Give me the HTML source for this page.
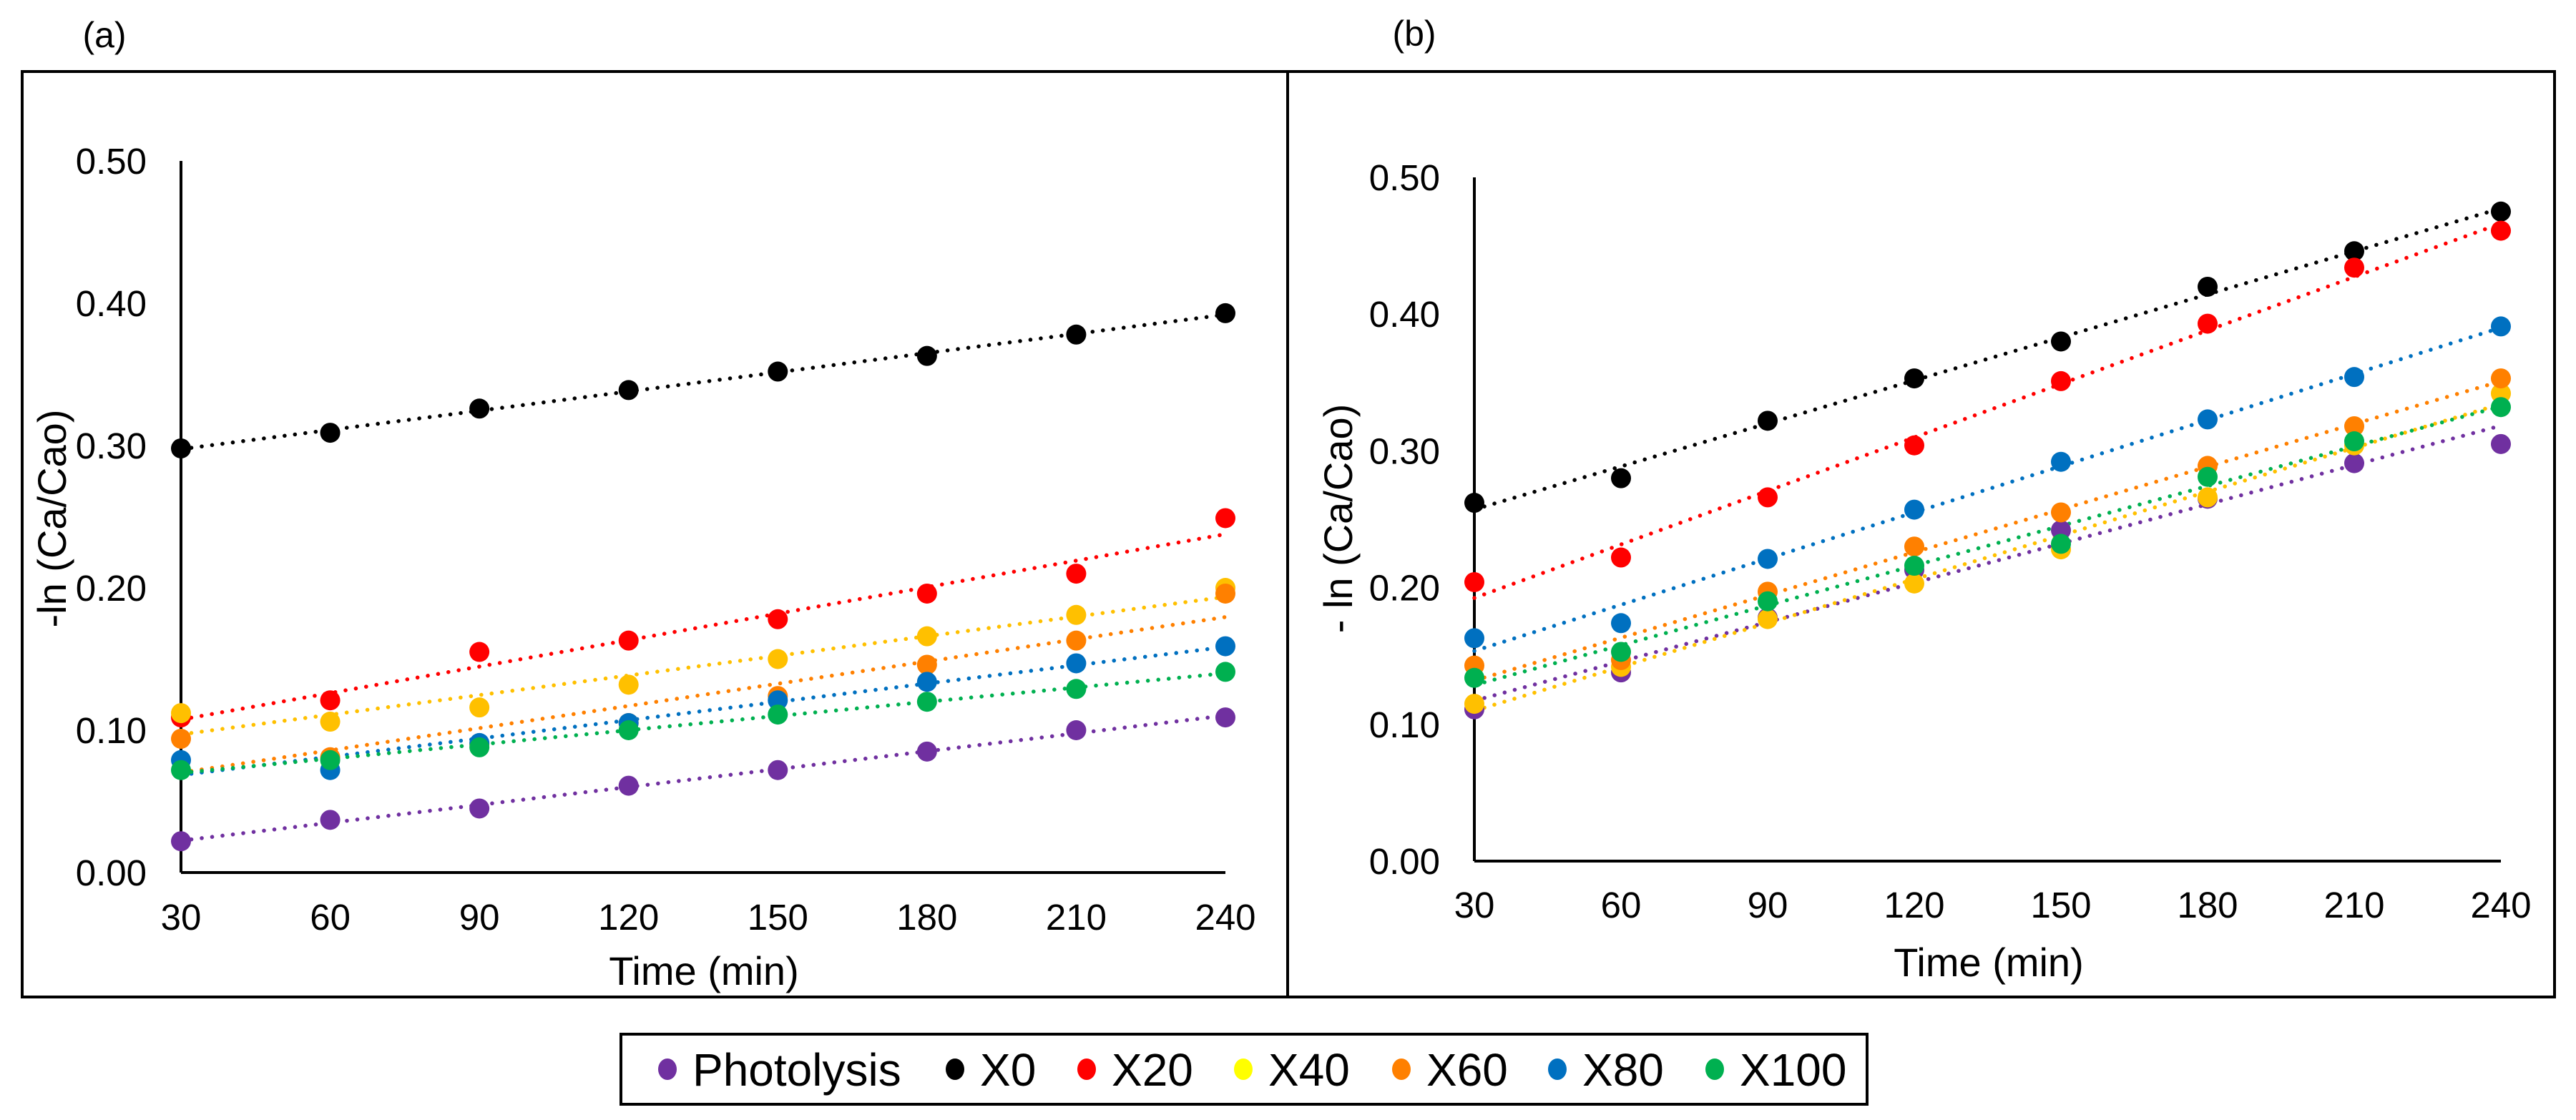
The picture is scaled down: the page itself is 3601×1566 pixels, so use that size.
<!DOCTYPE html>
<html><head><meta charset="utf-8"><style>
html,body{margin:0;padding:0;background:#fff}
svg{display:block;font-family:"Liberation Sans",Arial,sans-serif}
</style></head><body>
<svg id="chart" width="3601" height="1566" viewBox="0 0 3601 1566" xmlns="http://www.w3.org/2000/svg">
<rect x="0" y="0" width="3601" height="1566" fill="#fff"/>
<rect x="31" y="100" width="3540" height="1294" fill="none" stroke="#000" stroke-width="4"/>
<line x1="1800" y1="100" x2="1800" y2="1394" stroke="#000" stroke-width="4"/>
<text x="146" y="66" font-size="50" text-anchor="middle">(a)</text>
<text x="1977" y="64" font-size="50" text-anchor="middle">(b)</text>
<g id="pa"></g>
<g id="pb"></g>
<g id="legend">
<rect x="868" y="1446" width="1742" height="98" fill="#fff" stroke="#000" stroke-width="4"/>
</g>
</svg>
<script>
const times = [30,60,90,120,150,180,210,240];
const seriesNames = ["Photolysis","X0","X20","X40","X60","X80","X100"];
const plotColors = ["#7030A0","#000000","#FF0000","#FFC000","#FF8000","#0070C0","#00B050"];
const legendColors = ["#7030A0","#000000","#FF0000","#FFFF00","#FF8000","#0070C0","#00B050"];
const yTicks = [0,0.1,0.2,0.3,0.4,0.5];
const xTicks = [30,60,90,120,150,180,210,240];
// panel (a)
const aPhotolysis = [0.022,0.037,0.045,0.061,0.072,0.085,0.100,0.109];
const aX0 = [0.298,0.309,0.326,0.339,0.352,0.363,0.378,0.393];
const aX20 = [0.109,0.121,0.155,0.163,0.178,0.196,0.210,0.249];
const aX40 = [0.112,0.106,0.116,0.132,0.150,0.166,0.181,0.200];
const aX60 = [0.094,0.081,0.090,0.105,0.124,0.146,0.163,0.196];
const aX80 = [0.079,0.072,0.091,0.105,0.121,0.134,0.147,0.159];
const aX100 = [0.072,0.079,0.088,0.100,0.111,0.120,0.129,0.141];
// panel (b)
const bPhotolysis = [0.111,0.138,0.178,0.213,0.242,0.265,0.291,0.305];
const bX0 = [0.262,0.280,0.322,0.353,0.380,0.420,0.446,0.475];
const bX20 = [0.204,0.222,0.266,0.304,0.351,0.393,0.434,0.461];
const bX40 = [0.115,0.142,0.177,0.203,0.228,0.266,0.304,0.342];
const bX60 = [0.143,0.147,0.197,0.230,0.255,0.289,0.318,0.353];
const bX80 = [0.163,0.174,0.221,0.257,0.292,0.323,0.354,0.391];
const bX100 = [0.134,0.153,0.190,0.216,0.232,0.281,0.307,0.332];

const NS="http://www.w3.org/2000/svg";
function mk(parent,tag,attrs,text){const e=document.createElementNS(NS,tag);for(const k in attrs)e.setAttribute(k,attrs[k]);if(text!==undefined)e.textContent=text;parent.appendChild(e);return e;}

function drawPanel(g,cfg,data,prefix,yTitle){
  const xs=t=>cfg.x0+(t-30)/210*(cfg.x1-cfg.x0);
  const ys=v=>cfg.y0-v/0.5*(cfg.y0-cfg.y1);
  let e=mk(g,'line',{x1:cfg.x0,y1:ys(0.5),x2:cfg.x0,y2:ys(0),stroke:'#000','stroke-width':4});
  
  
  e=mk(g,'line',{x1:cfg.x0,y1:ys(0),x2:cfg.x1,y2:ys(0),stroke:'#000','stroke-width':4});
  
  
  yTicks.forEach(v=>{
    const t=mk(g,'text',{x:cfg.x0-48,y:ys(v)+18,'font-size':51,'text-anchor':'end'},v.toFixed(2));
    
    
  });
  xTicks.forEach(v=>{
    const t=mk(g,'text',{x:xs(v),y:cfg.xlabY,'font-size':51,'text-anchor':'middle'},String(v));
    
    
  });
  e=mk(g,'text',{x:cfg.xtitleX,y:cfg.xtitleY,'font-size':56,'text-anchor':'middle'},'Time (min)');
  
  
  e=mk(g,'text',{x:0,y:0,'font-size':56,'text-anchor':'middle',transform:`translate(${cfg.ytitleX},725) rotate(-90)`},yTitle);
  
  
  data.forEach((vals,i)=>{
    const n=times.length;let sx=0,sy=0,sxx=0,sxy=0;
    times.forEach((t,j)=>{sx+=t;sy+=vals[j];sxx+=t*t;sxy+=t*vals[j];});
    const m=(n*sxy-sx*sy)/(n*sxx-sx*sx),b=(sy-m*sx)/n;
    const l=mk(g,'line',{x1:xs(30),y1:ys(m*30+b),x2:xs(240),y2:ys(m*240+b),stroke:plotColors[i],'stroke-width':5.5,'stroke-linecap':'round','stroke-dasharray':'0.1 14.5'});
    
    
  });
  data.forEach((vals,i)=>{
    vals.forEach((v,j)=>{
      const c=mk(g,'circle',{cx:xs(times[j]),cy:ys(v),r:14,fill:plotColors[i]});
      
      
    });
  });
}
drawPanel(document.getElementById('pa'),{x0:253,x1:1713,y0:1220,y1:225,xlabY:1300,xtitleX:984,xtitleY:1377,ytitleX:92},
  [aPhotolysis,aX0,aX20,aX40,aX60,aX80,aX100],'panel-a','-ln (Ca/Cao)');
drawPanel(document.getElementById('pb'),{x0:2061,x1:3496,y0:1204,y1:248,xlabY:1283,xtitleX:2780,xtitleY:1365,ytitleX:1890},
  [bPhotolysis,bX0,bX20,bX40,bX60,bX80,bX100],'panel-b','- ln (Ca/Cao)');

const lg=document.getElementById('legend');
const legendX=[933,1335,1519,1738,1959,2177,2397];
seriesNames.forEach((s,i)=>{
  const gg=mk(lg,'g',{});
  
  
  const c=mk(gg,'ellipse',{cx:legendX[i],cy:1495,rx:13,ry:15,fill:legendColors[i]});
  
  
  const t=mk(gg,'text',{x:legendX[i]+35,y:1518,'font-size':64},s);
  
  
});
</script>
</body></html>
